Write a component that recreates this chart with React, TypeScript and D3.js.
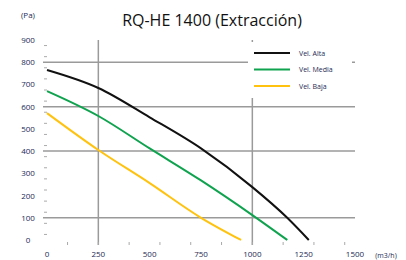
import React, { useEffect, useRef } from 'react';
import * as d3 from 'd3';

const flowTicks = [0, 250, 500, 750, 1000, 1250, 1500];
const pressureTicks = [0, 100, 200, 300, 400, 500, 600, 700, 800, 900];
const gridPressure = [800, 600, 400, 100];
const gridFlow = [250, 1000];

const altaFlow = [0, 250, 500, 750, 1000, 1170, 1275];
const altaPa = [765, 684, 552, 412, 238, 100, 0];
const mediaFlow = [0, 250, 500, 750, 1000, 1170];
const mediaPa = [670, 558, 412, 268, 112, 0];
const bajaFlow = [0, 250, 500, 750, 945];
const bajaPa = [571, 405, 256, 100, 0];

const seriesNames = ['Vel. Alta', 'Vel. Media', 'Vel. Baja'];
const seriesColors = ['#111111', '#10a34f', '#ffc20e'];

const App = () => {
  const ref = useRef<SVGSVGElement>(null);

  useEffect(() => {
    const svg = d3.select(ref.current);
    svg.selectAll('*').remove();

    const x = d3.scaleLinear().domain([0, 1500]).range([47, 355]);
    const y = d3.scaleLinear().domain([0, 900]).range([240, 40]);
    const font = "'Open Sans', sans-serif";

    svg.append('text')
      .attr('x', 212).attr('y', 26)
      .attr('text-anchor', 'middle')
      .style('font-family', font).style('font-size', '16px').attr('fill', '#111')
      .text('RQ-HE 1400 (Extracción)');

    const g = svg.append('g');

    // grid
    g.selectAll('line.hg').data(gridPressure).enter().append('line')
      .attr('x1', 43).attr('x2', 355)
      .attr('y1', d => y(d)).attr('y2', d => y(d))
      .attr('stroke', '#9a9a9a').attr('stroke-width', 1.5);
    g.selectAll('line.vg').data(gridFlow).enter().append('line')
      .attr('x1', d => x(d)).attr('x2', d => x(d))
      .attr('y1', 40).attr('y2', 245)
      .attr('stroke', '#9a9a9a').attr('stroke-width', 1.5);

    // small tick dashes
    g.selectAll('line.yt').data(d3.range(25, 900, 50)).enter().append('line')
      .attr('x1', 44).attr('x2', 47)
      .attr('y1', d => y(d)).attr('y2', d => y(d))
      .attr('stroke', '#aaa').attr('stroke-width', 1);
    g.selectAll('line.xt').data(d3.range(100, 1500, 150)).enter().append('line')
      .attr('x1', d => x(d)).attr('x2', d => x(d))
      .attr('y1', 242).attr('y2', 245)
      .attr('stroke', '#aaa').attr('stroke-width', 1);

    // axis labels
    g.selectAll('text.yl').data(pressureTicks).enter().append('text')
      .attr('x', 28).attr('y', d => y(d) + 3)
      .attr('text-anchor', 'middle')
      .style('font-family', font).style('font-size', '8px').attr('fill', '#1c2a55')
      .text(d => d);
    g.selectAll('text.xl').data(flowTicks).enter().append('text')
      .attr('x', d => x(d)).attr('y', 257)
      .attr('text-anchor', 'middle')
      .style('font-family', font).style('font-size', '8px').attr('fill', '#1c2a55')
      .text(d => d);
    svg.append('text').attr('x', 28).attr('y', 18).attr('text-anchor', 'middle')
      .style('font-family', font).style('font-size', '8px').attr('fill', '#1c2a55')
      .text('(Pa)');
    svg.append('text').attr('x', 386).attr('y', 258).attr('text-anchor', 'middle')
      .style('font-family', font).style('font-size', '7px').attr('fill', '#1c2a55')
      .text('(m3/h)');

    // curves
    const series = [
      altaFlow.map((f, i) => [f, altaPa[i]]),
      mediaFlow.map((f, i) => [f, mediaPa[i]]),
      bajaFlow.map((f, i) => [f, bajaPa[i]]),
    ];
    const line = d3.line<number[]>()
      .x(d => x(d[0])).y(d => y(d[1]))
      .curve(d3.curveMonotoneX);
    series.forEach((s, i) => {
      g.append('path').attr('d', line(s))
        .attr('fill', 'none').attr('stroke', seriesColors[i]).attr('stroke-width', 2);
    });

    // legend
    const lg = svg.append('g');
    lg.append('rect').attr('x', 248).attr('y', 42).attr('width', 104).attr('height', 56).attr('fill', '#fff');
    seriesNames.forEach((n, i) => {
      const ly = 53 + i * 16.5;
      lg.append('line').attr('x1', 254).attr('x2', 290).attr('y1', ly).attr('y2', ly)
        .attr('stroke', seriesColors[i]).attr('stroke-width', 2);
      lg.append('text').attr('x', 299).attr('y', ly + 2.5)
        .style('font-family', font).style('font-size', '7px').attr('fill', '#1c2a55')
        .text(n);
    });
  });

  return (
    <div style={{ position: 'absolute', left: 0, top: 0 }}>
      <svg ref={ref} width={406} height={260}></svg>
    </div>
  );
};

export default App;
